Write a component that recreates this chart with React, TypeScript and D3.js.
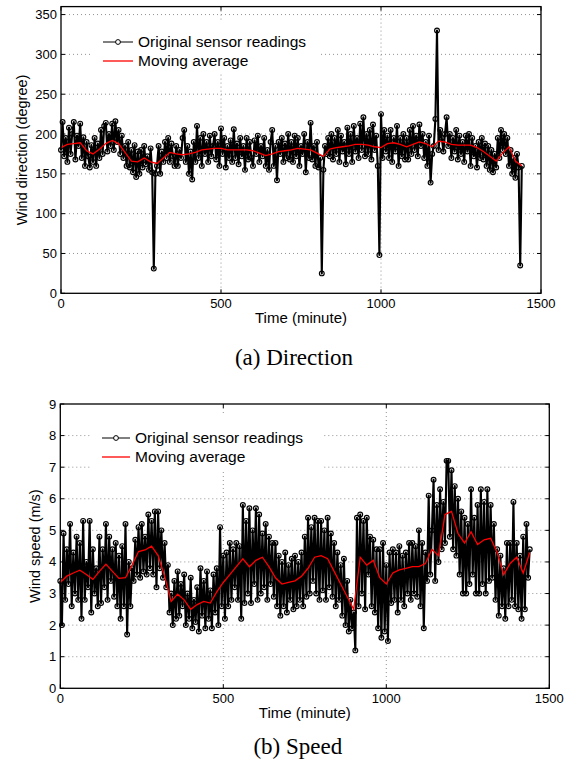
import React from 'react';
import * as d3 from 'd3';

// readings sampled every 5 minutes, moving average every 20 minutes
const readingStep = 5;
const avgStep = 20;

const directionReadings = [
  180, 215, 172, 195, 165, 208, 175, 200, 215, 168, 198, 185,
  213, 170, 196, 160, 190, 172, 158, 186, 165, 195, 160, 188,
  170, 205, 175, 210, 214, 178, 200, 185, 213, 180, 216, 190,
  205, 175, 198, 170, 185, 160, 190, 158, 180, 152, 186, 146,
  178, 150, 180, 158, 185, 162, 172, 155, 182, 152, 31, 150,
  160, 185, 150, 178, 165, 190, 170, 195, 165, 188, 172, 160,
  185, 160, 180, 170, 195, 205, 165, 185, 150, 178, 143, 190,
  165, 210, 170, 195, 160, 200, 175, 190, 165, 198, 172, 185,
  200, 168, 190, 160, 207, 175, 195, 158, 185, 170, 192, 165,
  206, 170, 188, 162, 195, 172, 185, 155, 195, 168, 190, 170,
  160, 192, 175, 198, 165, 185, 172, 195, 160, 180, 155, 190,
  205, 160, 185, 142, 190, 175, 195, 165, 188, 170, 200, 168,
  190, 165, 198, 172, 195, 160, 185, 175, 200, 152, 190, 170,
  214, 168, 185, 160, 190, 158, 170, 25, 155, 185, 175, 195,
  172, 200, 168, 195, 175, 205, 165, 198, 178, 190, 162, 208,
  175, 200, 165, 210, 178, 195, 170, 213, 180, 221, 172, 200,
  175, 205, 168, 212, 180, 198, 160, 48, 225, 170, 205, 178,
  198, 170, 205, 165, 195, 178, 210, 160, 195, 172, 200, 168,
  195, 168, 205, 175, 210, 180, 198, 172, 212, 185, 200, 170,
  190, 160, 198, 139, 175, 185, 219, 330, 180, 205, 195, 178,
  200, 221, 185, 200, 170, 195, 178, 205, 168, 198, 175, 190,
  165, 198, 178, 200, 160, 195, 172, 185, 158, 190, 170, 195,
  168, 188, 160, 185, 155, 180, 152, 175, 158, 195, 170, 205,
  180, 200, 175, 195, 160, 180, 150, 170, 145, 175, 158, 35, 160,
];

const directionAverage = [
  183, 187, 188, 189, 179, 175, 181, 188, 192, 188, 177, 166,
  165, 170, 165, 163, 170, 177, 175, 174, 175, 177, 180, 181,
  182, 182, 180, 180, 180, 180, 179, 176, 173, 175, 178, 179,
  180, 182, 181, 180, 176, 172, 181, 183, 184, 185, 187, 187,
  186, 184, 183, 188, 189, 187, 184, 187, 190, 188, 184, 191,
  190, 187, 186, 186, 186, 183, 178, 172, 166, 176, 184, 166,
  160,
];

const speedReadings = [
  3.4, 2.0, 4.9, 2.8, 4.4, 3.3, 5.2, 2.6, 4.3, 3.0, 4.8, 2.8,
  4.6, 2.2, 5.3, 2.8, 4.0, 3.2, 5.3, 2.4, 4.4, 3.0, 3.8, 2.6,
  4.8, 2.7, 4.4, 3.2, 5.2, 2.8, 4.8, 3.4, 4.4, 2.9, 4.6, 2.6,
  4.2, 2.2, 4.5, 2.6, 5.2, 1.7, 4.0, 2.6, 3.8, 3.4, 4.7, 3.6,
  5.1, 3.5, 5.2, 3.7, 4.8, 3.6, 5.5, 3.8, 5.3, 3.6, 5.6, 3.2,
  5.6, 3.8, 5.0, 3.5, 4.6, 3.2, 3.9, 2.4, 3.0, 2.0, 3.4, 2.2,
  3.7, 2.3, 3.3, 2.6, 3.6, 2.0, 3.0, 2.2, 3.5, 1.9, 2.8, 2.1,
  3.2, 1.8, 3.8, 2.3, 3.4, 1.9, 3.7, 2.2, 3.1, 1.9, 3.6, 2.4,
  3.8, 2.0, 5.1, 2.6, 4.2, 2.2, 4.3, 2.6, 4.6, 2.8, 4.4, 3.2,
  4.6, 2.8, 4.5, 2.2, 5.8, 2.7, 5.3, 3.0, 5.7, 2.7, 5.0, 3.3,
  5.7, 2.8, 5.5, 3.0, 4.9, 3.2, 5.2, 2.8, 4.8, 3.3, 4.6, 2.9,
  4.6, 2.6, 4.2, 2.3, 4.0, 2.6, 4.3, 2.4, 3.9, 2.8, 4.1, 2.5,
  4.2, 2.6, 4.0, 2.8, 4.3, 2.6, 4.8, 2.9, 5.4, 3.0, 5.1, 3.4,
  5.4, 3.0, 5.3, 2.8, 5.3, 3.1, 5.0, 2.8, 5.4, 3.2, 4.9, 2.9,
  4.6, 2.6, 4.3, 2.8, 3.9, 2.3, 4.1, 2.0, 3.4, 1.8, 2.8, 1.9,
  2.4, 1.2, 5.4, 2.6, 5.5, 3.0, 5.3, 2.5, 5.4, 3.6, 4.8, 2.6,
  4.7, 2.4, 4.4, 1.9, 4.4, 1.6, 4.6, 1.8, 3.9, 1.5, 4.3, 2.7,
  4.4, 2.8, 4.3, 2.4, 4.5, 2.8, 4.2, 2.6, 4.3, 3.0, 4.6, 2.8,
  4.6, 3.0, 4.5, 2.9, 5.0, 2.6, 4.6, 1.9, 4.3, 3.4, 6.1, 3.6,
  5.0, 6.6, 3.4, 5.8, 4.0, 6.3, 4.4, 5.9, 4.6, 7.2, 7.2, 4.8,
  6.9, 4.4, 6.4, 4.2, 6.0, 3.6, 5.6, 3.0, 5.4, 3.0, 5.2, 3.3,
  6.3, 3.6, 5.4, 3.0, 5.8, 3.0, 6.3, 3.3, 5.9, 3.0, 6.3, 3.4,
  5.8, 3.5, 5.2, 2.8, 4.4, 2.3, 4.2, 2.6, 3.8, 2.2, 4.6, 2.6,
  4.6, 2.8, 5.9, 2.6, 4.6, 2.5, 4.2, 2.2, 4.8, 2.5, 5.2, 3.5, 4.4,
];

const speedAverage = [
  3.35, 3.55, 3.65, 3.74, 3.6, 3.45, 3.7, 3.93, 3.7, 3.48, 3.5, 3.9,
  4.33, 4.38, 4.5, 4.2, 3.55, 2.75, 2.98, 2.8, 2.5, 2.65, 2.75, 2.7,
  3.05, 3.35, 3.6, 3.85, 4.1, 3.85, 4.05, 4.15, 3.85, 3.5, 3.3, 3.35,
  3.4, 3.55, 3.8, 4.15, 4.2, 4.1, 3.7, 3.3, 2.9, 2.5, 4.15, 3.9,
  4.05, 3.5, 3.3, 3.65, 3.75, 3.8, 3.85, 3.85, 3.95, 4.4, 4.2, 5.5,
  5.6, 4.9, 4.6, 4.95, 4.55, 4.7, 4.75, 4.3, 3.6, 3.95, 4.15, 3.65,
  4.3,
];

const timeTicks = [0, 500, 1000, 1500];
const directionTicks = [0, 50, 100, 150, 200, 250, 300, 350];
const speedTicks = [0, 1, 2, 3, 4, 5, 6, 7, 8, 9];
const legendLabels = ['Original sensor readings', 'Moving average'];

const sans = 'Liberation Sans, Arial, sans-serif';
const serif = 'Liberation Serif, Times New Roman, serif';

type Box = { left: number; right: number; top: number; bottom: number };

type PanelProps = {
  readings: number[];
  average: number[];
  yMax: number;
  yTicks: number[];
  box: Box;
  yLabel: string;
  yLabelX: number;
  caption: string;
  captionY: number;
  legend: { x: number; y: number; w: number; h: number; lineX: number; lineW: number; row1: number; row2: number };
};

function Panel({ readings, average, yMax, yTicks, box, yLabel, yLabelX, caption, captionY, legend }: PanelProps) {
  const x = d3.scaleLinear().domain([0, 1500]).range([box.left, box.right]);
  const y = d3.scaleLinear().domain([0, yMax]).range([box.bottom, box.top]);

  const pts = readings.map((v, i) => [i * readingStep, v] as [number, number]);
  const avgPts = average.map((v, i) => [i * avgStep, v] as [number, number]);
  const line = d3.line<[number, number]>().x(d => x(d[0])).y(d => y(d[1]));

  const tickLen = 4;
  const midX = (box.left + box.right) / 2;
  const midY = (box.top + box.bottom) / 2;

  return (
    <g>
      {/* grid */}
      <g stroke="#777" strokeWidth={0.8} strokeDasharray="1 3">
        {timeTicks.filter(t => t > 0 && t < 1500).map(t => (
          <line key={'gx' + t} x1={x(t)} x2={x(t)} y1={box.top} y2={box.bottom} />
        ))}
        {yTicks.filter(t => t > 0 && t < yMax).map(t => (
          <line key={'gy' + t} x1={box.left} x2={box.right} y1={y(t)} y2={y(t)} />
        ))}
      </g>

      {/* legend background */}
      <rect x={legend.x} y={legend.y} width={legend.w} height={legend.h} fill="#fff" />

      {/* data */}
      <path d={line(pts) ?? ''} fill="none" stroke="#000" strokeWidth={2.1} strokeLinejoin="round" />
      <g fill="none" stroke="#000" strokeWidth={1.15}>
        {pts.map((d, i) => (
          <circle key={i} cx={x(d[0])} cy={y(d[1])} r={2.4} />
        ))}
      </g>
      <path d={line(avgPts) ?? ''} fill="none" stroke="#f00" strokeWidth={1.3} />

      {/* frame and ticks */}
      <rect x={box.left} y={box.top} width={box.right - box.left} height={box.bottom - box.top}
        fill="none" stroke="#000" strokeWidth={1.3} />
      <g stroke="#000" strokeWidth={1}>
        {timeTicks.map(t => (
          <g key={'tx' + t}>
            <line x1={x(t)} x2={x(t)} y1={box.bottom} y2={box.bottom - tickLen} />
            <line x1={x(t)} x2={x(t)} y1={box.top} y2={box.top + tickLen} />
          </g>
        ))}
        {yTicks.map(t => (
          <g key={'ty' + t}>
            <line x1={box.left} x2={box.left + tickLen} y1={y(t)} y2={y(t)} />
            <line x1={box.right} x2={box.right - tickLen} y1={y(t)} y2={y(t)} />
          </g>
        ))}
      </g>

      {/* tick labels */}
      <g fontFamily={sans} fontSize={13} fill="#000">
        {timeTicks.map(t => (
          <text key={'lx' + t} x={x(t)} y={box.bottom + 15} textAnchor="middle">{t}</text>
        ))}
        {yTicks.map(t => (
          <text key={'ly' + t} x={box.left - 4} y={y(t)} dy="0.35em" textAnchor="end">{t}</text>
        ))}
      </g>

      {/* axis labels */}
      <text x={midX} y={box.bottom + 30} textAnchor="middle" fontFamily={sans} fontSize={15}>Time (minute)</text>
      <text transform={`translate(${yLabelX},${midY}) rotate(-90)`} dy="0.35em" textAnchor="middle"
        fontFamily={sans} fontSize={14.5}>{yLabel}</text>

      {/* legend */}
      <g>
        <line x1={legend.lineX} x2={legend.lineX + legend.lineW} y1={legend.row1} y2={legend.row1} stroke="#000" strokeWidth={1} />
        <circle cx={legend.lineX + legend.lineW / 2} cy={legend.row1} r={2.4} fill="#fff" stroke="#000" strokeWidth={1} />
        <line x1={legend.lineX} x2={legend.lineX + legend.lineW} y1={legend.row2} y2={legend.row2} stroke="#f00" strokeWidth={1.3} />
        <text x={legend.lineX + legend.lineW + 5} y={legend.row1} dy="0.35em" fontFamily={sans} fontSize={15.5}>{legendLabels[0]}</text>
        <text x={legend.lineX + legend.lineW + 5} y={legend.row2} dy="0.35em" fontFamily={sans} fontSize={15.5}>{legendLabels[1]}</text>
      </g>

      {/* caption */}
      <text x={midX - 7} y={captionY} textAnchor="middle" fontFamily={serif} fontSize={23}>{caption}</text>
    </g>
  );
}

export default function App() {
  return (
    <svg width={571} height={762} style={{ position: 'absolute', left: 0, top: 0, background: '#fff' }}>
      <rect width={571} height={762} fill="#fff" />
      <Panel
        readings={directionReadings}
        average={directionAverage}
        yMax={360}
        yTicks={directionTicks}
        box={{ left: 61, right: 541, top: 6.6, bottom: 293.3 }}
        yLabel="Wind direction (degree)"
        yLabelX={21.5}
        caption="(a) Direction"
        captionY={365}
        legend={{ x: 90, y: 21, w: 230, h: 53, lineX: 103, lineW: 30, row1: 42, row2: 61 }}
      />
      <Panel
        readings={speedReadings}
        average={speedAverage}
        yMax={9}
        yTicks={speedTicks}
        box={{ left: 60.3, right: 549.3, top: 404, bottom: 688.3 }}
        yLabel="Wind speed (m/s)"
        yLabelX={35}
        caption="(b) Speed"
        captionY={754}
        legend={{ x: 92, y: 415, w: 230, h: 55, lineX: 102, lineW: 28, row1: 438, row2: 457 }}
      />
    </svg>
  );
}
